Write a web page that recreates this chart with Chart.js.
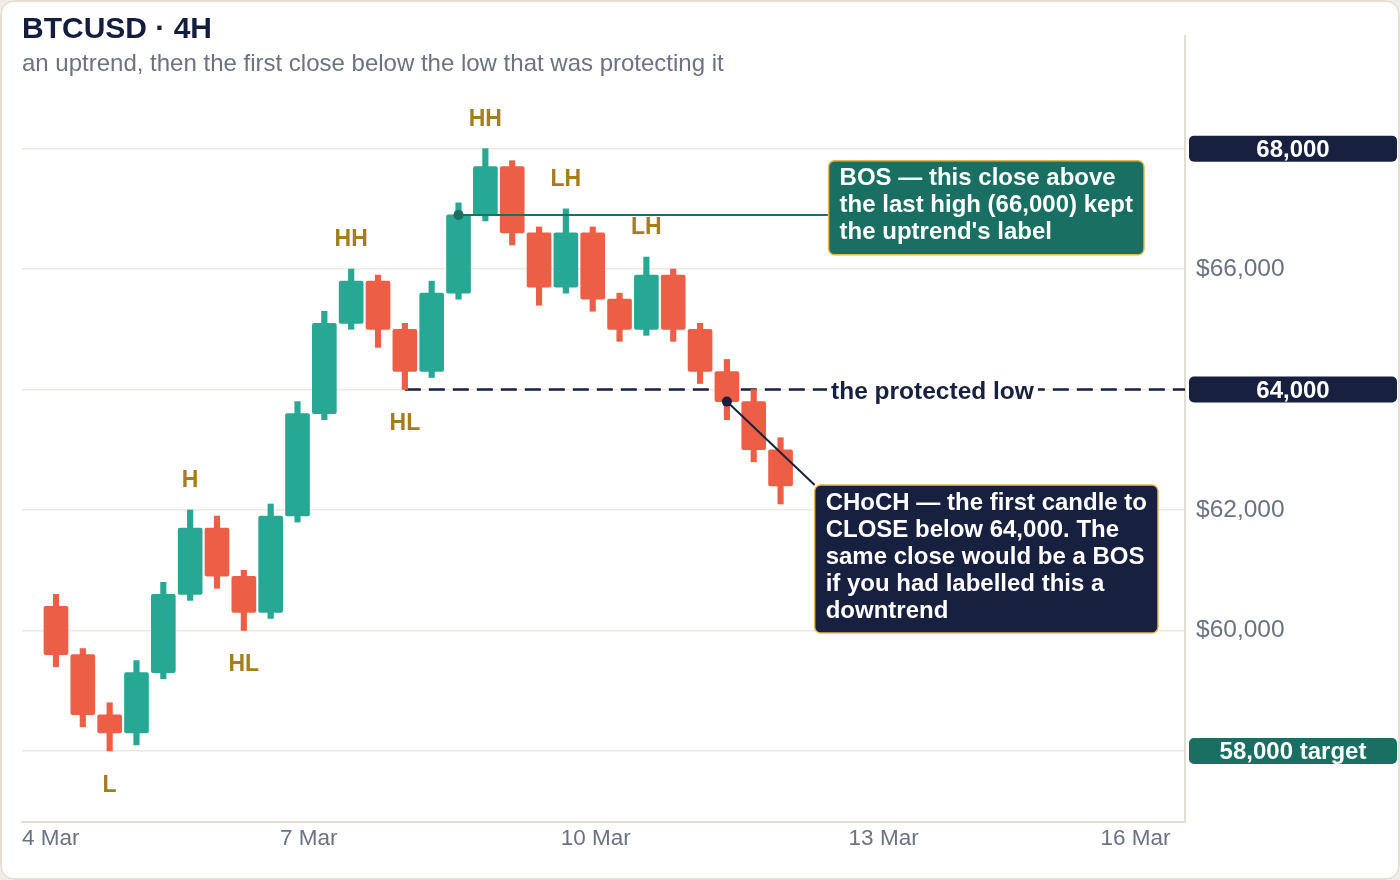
<!DOCTYPE html>
<html>
<head>
<meta charset="utf-8">
<title>BTCUSD 4H</title>
<script src="https://cdn.jsdelivr.net/npm/chart.js@4.4.1/dist/chart.umd.min.js"></script>
<style>
  html, body { margin: 0; padding: 0; background: #efece4; }
  #card { position: relative; width: 1400px; height: 880px; background: #fff; border-radius: 14px; overflow: hidden; }
  #frame { position: absolute; inset: 0; border: 2px solid #e4e0d5; border-radius: 14px; pointer-events: none; }
  #wrap { position: absolute; left: 0; top: 0; width: 1400px; height: 880px; }
  #title { position: absolute; left: 22px; top: 12px; font: bold 30px "Liberation Sans", Arial, sans-serif; line-height: 32px; color: #141d3f; }
  #subtitle { position: absolute; left: 22px; top: 49px; font: 24px "Liberation Sans", Arial, sans-serif; line-height: 28px; color: #6b7280; }
</style>
</head>
<body>
<div id="card">
  <div id="wrap"><canvas id="chart"></canvas></div>
  <div id="title">BTCUSD · 4H</div>
  <div id="subtitle">an uptrend, then the first close below the low that was protecting it</div>
  <div id="frame"></div>
</div>
<script>
// 4H candles (index = candle number)
const candleOpen  = [60400, 59600, 58600, 58300, 59300, 60600, 61700, 60900, 60300, 61900,
                     63600, 65100, 65800, 65000, 64300, 65600, 66900, 67700, 66600, 65700,
                     66600, 65500, 65000, 65900, 65000, 64300, 63800, 63000];
const candleHigh  = [60600, 59700, 58800, 59500, 60800, 62000, 61900, 61000, 62100, 63800,
                     65300, 66000, 65900, 65100, 65800, 67100, 68000, 67800, 66700, 67000,
                     66700, 65600, 66200, 66000, 65100, 64500, 64000, 63200];
const candleLow   = [59400, 58400, 58000, 58100, 59200, 60500, 60700, 60000, 60200, 61800,
                     63500, 65000, 64700, 64000, 64200, 65500, 66800, 66400, 65400, 65600,
                     65300, 64800, 64900, 64800, 64100, 63500, 62800, 62100];
const candleClose = [59600, 58600, 58300, 59300, 60600, 61700, 60900, 60300, 61900, 63600,
                     65100, 65800, 65000, 64300, 65600, 66900, 67700, 66600, 65700, 66600,
                     65500, 65000, 65900, 65000, 64300, 63800, 63000, 62400];

// swing labels
const swingText  = ['L', 'H', 'HL', 'HH', 'HL', 'HH', 'LH', 'LH'];
const swingIndex = [2, 5, 7, 11, 13, 16, 19, 22];
const swingSide  = ['low', 'high', 'low', 'high', 'low', 'high', 'high', 'high'];

// axes
const xTickPos    = [-1.266, 9.42, 20.11, 30.84, 41.53];
const xTickLabels = ['4 Mar', '7 Mar', '10 Mar', '13 Mar', '16 Mar'];
const yTicks      = [58000, 60000, 62000, 64000, 66000, 68000];

// price tags on the right
const tagValues = [68000, 64000, 58000];
const tagTexts  = ['68,000', '64,000', '58,000 target'];

// structure
const bosIndex = 15, bosPrice = 66900;
const chochIndex = 25, chochPrice = 63800;
const protectedIndex = 13, protectedPrice = 64000;

const UP = '#26a894', DOWN = '#ec5e45';
const NAVY = '#17203f', TEAL = '#196f61', GOLD = '#a57d1c', EDGE = '#e3b94c';
const FONT = '"Liberation Sans", Arial, sans-serif';

const candleColors = candleOpen.map((o, i) => candleClose[i] >= o ? UP : DOWN);

function roundBox(ctx, x, y, w, h, r) {
  ctx.beginPath();
  ctx.roundRect(x, y, w, h, r);
}

function drawNote(ctx, left, top, lines, fill) {
  ctx.font = 'bold 24px ' + FONT;
  const w = Math.max(...lines.map(t => ctx.measureText(t).width)) + 22;
  const h = lines.length * 27 + 13;
  roundBox(ctx, left, top, w, h, 6);
  ctx.fillStyle = fill;
  ctx.fill();
  ctx.lineWidth = 1.5;
  ctx.strokeStyle = EDGE;
  ctx.stroke();
  ctx.fillStyle = '#fff';
  ctx.textAlign = 'left';
  ctx.textBaseline = 'middle';
  lines.forEach((t, k) => ctx.fillText(t, left + 11, top + 18 + k * 27));
}

const underlay = {
  id: 'underlay',
  beforeDatasetsDraw(chart) {
    const { ctx, chartArea, scales: { x, y } } = chart;
    const py = y.getPixelForValue(protectedPrice);
    ctx.save();
    ctx.strokeStyle = NAVY;
    ctx.lineWidth = 2.5;
    ctx.setLineDash([16, 8]);
    ctx.beginPath();
    ctx.moveTo(x.getPixelForValue(protectedIndex), py);
    ctx.lineTo(chartArea.right, py);
    ctx.stroke();
    ctx.restore();
  }
};

const overlay = {
  id: 'overlay',
  afterDatasetsDraw(chart) {
    const { ctx, chartArea, scales: { x, y } } = chart;
    ctx.save();

    // swing labels
    ctx.font = 'bold 23px ' + FONT;
    ctx.fillStyle = GOLD;
    ctx.textAlign = 'center';
    ctx.textBaseline = 'middle';
    swingText.forEach((t, k) => {
      const i = swingIndex[k];
      const hi = swingSide[k] === 'high';
      const py = y.getPixelForValue(hi ? candleHigh[i] : candleLow[i]) + (hi ? -29 : 34.5);
      ctx.fillText(t, x.getPixelForValue(i), py);
    });

    // protected low label
    const ply = y.getPixelForValue(protectedPrice);
    ctx.font = 'bold 24.5px ' + FONT;
    const lbl = 'the protected low';
    const lw = ctx.measureText(lbl).width;
    const lx = x.getPixelForValue(32.66);
    ctx.fillStyle = '#fff';
    ctx.fillRect(lx - lw / 2 - 4, ply - 14, lw + 8, 28);
    ctx.fillStyle = NAVY;
    ctx.fillText(lbl, lx, ply + 2.5);

    // BOS
    const bx = x.getPixelForValue(bosIndex), by = y.getPixelForValue(bosPrice);
    const bosLeft = x.getPixelForValue(28.79), bosTop = y.getPixelForValue(67800);
    ctx.strokeStyle = TEAL;
    ctx.lineWidth = 2;
    ctx.beginPath();
    ctx.moveTo(bx, by);
    ctx.lineTo(bosLeft, by);
    ctx.stroke();
    ctx.fillStyle = TEAL;
    ctx.beginPath();
    ctx.arc(bx, by, 5, 0, Math.PI * 2);
    ctx.fill();
    drawNote(ctx, bosLeft, bosTop,
      ['BOS — this close above', 'the last high (66,000) kept', "the uptrend's label"], TEAL);

    // CHoCH
    const cx = x.getPixelForValue(chochIndex), cy = y.getPixelForValue(chochPrice);
    const chLeft = x.getPixelForValue(28.27), chTop = y.getPixelForValue(62415);
    ctx.strokeStyle = NAVY;
    ctx.lineWidth = 2;
    ctx.beginPath();
    ctx.moveTo(cx, cy);
    ctx.lineTo(chLeft, chTop);
    ctx.stroke();
    ctx.fillStyle = NAVY;
    ctx.beginPath();
    ctx.arc(cx, cy, 5, 0, Math.PI * 2);
    ctx.fill();
    drawNote(ctx, chLeft, chTop,
      ['CHoCH — the first candle to', 'CLOSE below 64,000. The', 'same close would be a BOS',
       'if you had labelled this a', 'downtrend'], NAVY);

    // price tags
    ctx.font = 'bold 24px ' + FONT;
    ctx.textAlign = 'center';
    tagValues.forEach((v, k) => {
      const py = y.getPixelForValue(v);
      const left = chartArea.right + 4;
      const w = chart.width - 3 - left;
      roundBox(ctx, left, py - 13, w, 26, 5);
      ctx.fillStyle = k === 2 ? TEAL : NAVY;
      ctx.fill();
      ctx.fillStyle = '#fff';
      ctx.fillText(tagTexts[k], left + w / 2, py + 1.5);
    });

    ctx.restore();
  }
};

const ctx = document.getElementById('chart').getContext('2d');
new Chart(ctx, {
  type: 'bar',
  data: {
    datasets: [
      {
        label: 'wick',
        data: candleOpen.map((o, i) => ({ x: i, y: [candleLow[i], candleHigh[i]] })),
        backgroundColor: candleColors,
        barThickness: 5.5,
        grouped: false,
        order: 2
      },
      {
        label: 'body',
        data: candleOpen.map((o, i) => ({ x: i, y: [o, candleClose[i]] })),
        backgroundColor: candleColors,
        barThickness: 24,
        borderRadius: 2,
        borderSkipped: false,
        grouped: false,
        order: 1
      }
    ]
  },
  options: {
    responsive: true,
    maintainAspectRatio: false,
    animation: false,
    layout: { padding: { left: 22, top: 36, right: 0, bottom: 0 } },
    plugins: { legend: { display: false }, tooltip: { enabled: false } },
    scales: {
      x: {
        type: 'linear',
        min: -1.266,
        max: 42.07,
        offset: false,
        grid: { display: false, offset: false, drawTicks: false },
        border: { display: true, color: '#e0ddd3', width: 2 },
        afterBuildTicks: axis => { axis.ticks = xTickPos.map(v => ({ value: v })); },
        afterFit: axis => { axis.height = 58; },
        ticks: {
          align: 'inner',
          maxRotation: 0,
          autoSkip: false,
          padding: 3,
          color: '#6b7280',
          font: { family: FONT, size: 22.5 },
          callback: (v, i) => xTickLabels[i]
        }
      },
      y: {
        position: 'right',
        min: 56820,
        max: 69870,
        grid: { color: '#ece9e2', lineWidth: 1.5, drawTicks: false },
        border: { display: true, color: '#e0ddd3', width: 2 },
        afterBuildTicks: axis => { axis.ticks = yTicks.map(v => ({ value: v })); },
        afterFit: axis => { axis.width = 215; },
        ticks: {
          padding: 11,
          color: '#6b7280',
          font: { family: FONT, size: 24.5 },
          callback: v => '$' + v.toLocaleString('en-US')
        }
      }
    }
  },
  plugins: [underlay, overlay]
});
</script>
</body>
</html>
